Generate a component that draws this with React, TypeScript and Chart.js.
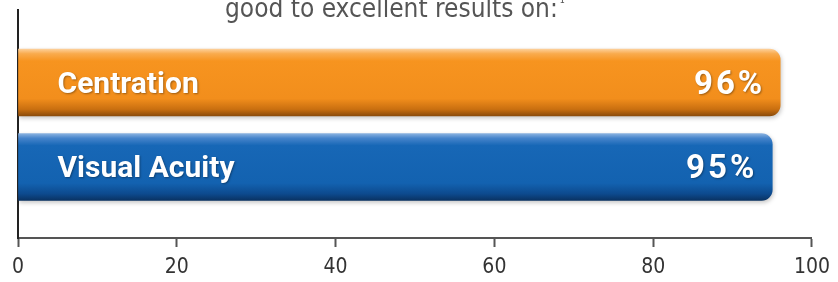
import React, { useEffect, useRef } from "react";
import { Chart, registerables } from "chart.js";

Chart.register(...registerables);

// ---- data ----
const categories = ["Centration", "Visual Acuity"];
const values = [96, 95];
const valueLabels = ["96%", "95%"];
const xTicks = [0, 20, 40, 60, 80, 100];
const titleText = "good to excellent results on:";
const titleNote = "¹";

// ---- styles ----
const BAR_H = 67;
const barStops: [number, string][][] = [
  [
    [0, "#FDD09A"],
    [0.07, "#F9AB4E"],
    [0.18, "#F7941F"],
    [0.74, "#F28E1C"],
    [0.9, "#C96F10"],
    [1, "#8A4B0B"],
  ],
  [
    [0, "#8AB2E0"],
    [0.07, "#4684CB"],
    [0.18, "#1767B6"],
    [0.74, "#1362B0"],
    [0.9, "#0D4A8E"],
    [1, "#093262"],
  ],
];

const titlePlugin = {
  id: "topTitle",
  beforeDraw(chart: any) {
    const { ctx } = chart;
    ctx.save();
    ctx.font = "26px 'DejaVu Sans Condensed', 'Liberation Sans', sans-serif";
    ctx.fillStyle = "#555555";
    ctx.textAlign = "left";
    ctx.textBaseline = "alphabetic";
    const x0 = 225;
    ctx.fillText(titleText, x0, 17);
    const w = ctx.measureText(titleText).width;
    ctx.font = "14px 'DejaVu Sans Condensed', 'Liberation Sans', sans-serif";
    ctx.fillText(titleNote, x0 + w + 2, 8);
    ctx.restore();
  },
};

const shadowPlugin = {
  id: "barShadow",
  beforeDatasetsDraw(chart: any) {
    const { ctx } = chart;
    ctx.save();
    ctx.shadowColor = "rgba(0,0,0,0.22)";
    ctx.shadowBlur = 4;
    ctx.shadowOffsetX = 1;
    ctx.shadowOffsetY = 2;
  },
  afterDatasetsDraw(chart: any) {
    chart.ctx.restore();
  },
};

const labelPlugin = {
  id: "barLabels",
  afterDatasetsDraw(chart: any) {
    const { ctx } = chart;
    const meta = chart.getDatasetMeta(0);
    meta.data.forEach((bar: any, i: number) => {
      const { x, y, base } = bar.getProps(["x", "y", "base"], true);
      ctx.save();
      ctx.fillStyle = "#ffffff";
      ctx.shadowColor = "rgba(0,0,0,0.35)";
      ctx.shadowBlur = 2;
      ctx.shadowOffsetX = 1;
      ctx.shadowOffsetY = 1;
      ctx.textBaseline = "alphabetic";
      ctx.font = "bold 30px Roboto, 'Liberation Sans', sans-serif";
      ctx.textAlign = "left";
      ctx.fillText(categories[i], base + 39, y + 10);
      ctx.font = "bold 33px Roboto, 'Liberation Sans', sans-serif";
      (ctx as any).letterSpacing = "3px";
      ctx.textAlign = "right";
      ctx.fillText(valueLabels[i], x - 15, y + 11);
      ctx.restore();
    });
  },
};

export default function App() {
  const ref = useRef<HTMLCanvasElement | null>(null);

  useEffect(() => {
    if (!ref.current) return;
    const chart = new Chart(ref.current, {
      type: "bar",
      data: {
        datasets: [
          {
            data: categories.map((_, i) => ({ x: values[i], y: i })),
            barThickness: BAR_H,
            borderRadius: 11,
            borderSkipped: "start",
            backgroundColor: (c: any) => {
              const stops = barStops[c.dataIndex] ?? barStops[0];
              const ys = c.chart.scales?.y;
              if (!ys || c.type !== "data") return stops[2][1];
              const center = ys.getPixelForValue(c.dataIndex);
              if (!Number.isFinite(center)) return stops[2][1];
              const g = c.chart.ctx.createLinearGradient(0, center - BAR_H / 2, 0, center + BAR_H / 2);
              stops.forEach(([o, col]) => g.addColorStop(o, col));
              return g;
            },
          } as any,
        ],
      },
      options: {
        indexAxis: "y",
        animation: false,
        responsive: false,
        devicePixelRatio: 1,
        layout: { padding: { top: 10, right: 22, left: 0, bottom: 0 } },
        plugins: {
          legend: { display: false },
          tooltip: { enabled: false },
          title: { display: false },
        },
        scales: {
          x: {
            type: "linear",
            min: 0,
            max: 100,
            afterBuildTicks: (s: any) => {
              s.ticks = xTicks.map((v) => ({ value: v }));
            },
            afterFit: (s: any) => {
              s.height = 44;
            },
            ticks: {
              color: "#333333",
              font: { family: "'Liberation Sans Narrow', 'DejaVu Sans Condensed', 'Liberation Sans', sans-serif", size: 21 },
              padding: 8,
              maxRotation: 0,
            },
            grid: {
              drawOnChartArea: false,
              drawTicks: true,
              tickLength: 9,
              tickWidth: 2,
              tickColor: "#555555",
            },
            border: { display: true, color: "#555555", width: 2 },
          },
          y: {
            type: "linear",
            reverse: true,
            offset: false,
            min: -0.858,
            max: 1.84,
            afterFit: (s: any) => {
              s.width = 18;
            },
            ticks: { display: false },
            grid: { display: false, drawTicks: false, offset: false },
            border: { display: true, color: "#222222", width: 2 },
          },
        },
      } as any,
      plugins: [titlePlugin, shadowPlugin, labelPlugin],
    });
    return () => chart.destroy();
  }, []);

  return (
    <div style={{ position: "absolute", left: 0, top: 0, width: 838, height: 282, background: "#fff" }}>
      <canvas ref={ref} width={838} height={282} style={{ width: 838, height: 282, display: "block" }} />
    </div>
  );
}
